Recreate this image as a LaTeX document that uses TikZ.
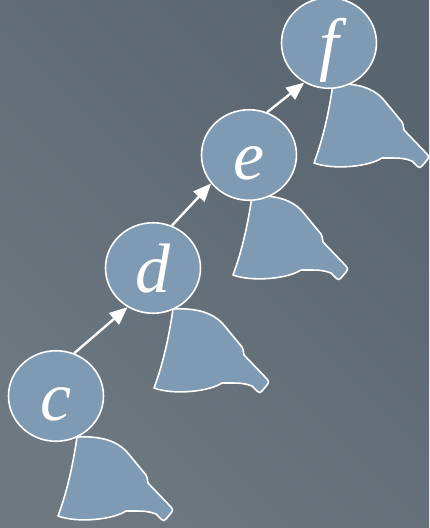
\documentclass[tikz,border=0pt]{standalone}
\usepackage{fontspec}
\setmainfont{Liberation Serif}
\usetikzlibrary{shapes.geometric,arrows.meta}

\definecolor{slate}{HTML}{7F9BB3}
\definecolor{bglight}{HTML}{6D7881}
\definecolor{bgdark}{HTML}{59656F}

\newcommand{\keyfont}[0]{\fontsize{70}{70}\selectfont\itshape}
\tikzstyle{dedge} = [-{Triangle[length=18pt,width=15pt]},draw=white,line width=2.4pt]
\tikzstyle{key}=[
  ellipse,
  draw=white,
  line width=1.6pt,
  fill=slate,
  minimum width=95pt,
  minimum height=78pt,
  inner sep=0pt,
  text=white,
  font=\keyfont,
  text height=56pt,
  text depth=8pt,
  anchor=center,
]
\tikzstyle{subtree}=[
  draw=white,
  line width=1.6pt,
  fill=slate,
  line join=round,
]
\newcommand{\subtreeshape}[1]{%
  \draw[subtree,shift={(#1)}] (0,0) .. controls (20,-1) and (38,2) .. (50,15)
    -- (69,38) .. controls (70,40) .. (71,46) -- (94,70)
    .. controls (96,73) .. (94,76) -- (89,82) .. controls (87,84) .. (84,82)
    -- (79,77) .. controls (70,74) .. (49,74)
    .. controls (35,83) and (0,86) .. (-19,79)
    .. controls (-10,55) and (-4,28) .. (0,0) -- cycle;}

\begin{document}
\begin{tikzpicture}[x=1pt,y=-1pt]
  \shade[top color=bgdark,bottom color=bglight,shading angle=-45] (0,0) rectangle (429,528);
  \useasboundingbox (0,0) rectangle (429,528);

  \coordinate (ctree) at (77,437);
  \coordinate (dtree) at (173,309);
  \coordinate (etree) at (252,196);
  \coordinate (ftree) at (333,84);
  \subtreeshape{ctree}
  \subtreeshape{dtree}
  \subtreeshape{etree}
  \subtreeshape{ftree}

  \node[key] (c) at (56,396) {c};
  \node[key] (d) at (153,268) {d};
  \node[key] (e) at (249,155) {e};
  \node[key] (f) at (329,43) {f};
  \draw[dedge] (c.67) -- (d.237);
  \draw[dedge] (d.66) -- (e.217);
  \draw[dedge] (e.67) -- (f.238);
\end{tikzpicture}
\end{document}
